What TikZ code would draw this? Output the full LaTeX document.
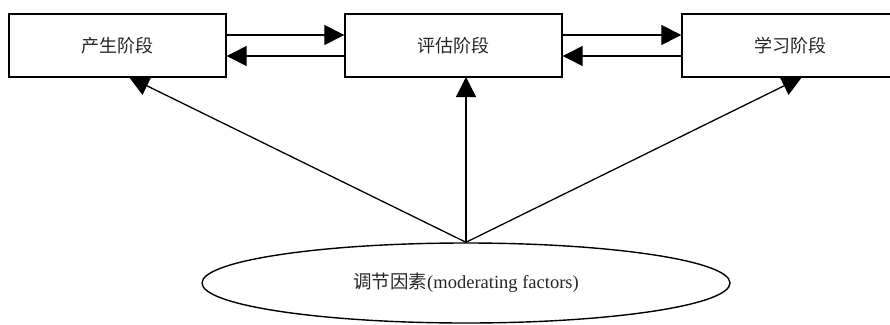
\documentclass[tikz,border=0pt]{standalone}
\usepackage{fontspec}
\setmainfont{Liberation Serif}
\newfontfamily\cjk{Noto Sans CJK SC}
\usetikzlibrary{arrows.meta,shapes.geometric}
\begin{document}
\begin{tikzpicture}[x=1pt,y=-1pt,
  stagebox/.style={draw,line width=1.4pt,fill=white,minimum width=217pt,minimum height=63pt,inner sep=0pt,font=\fontsize{18}{21}\selectfont\cjk,text=black!85},
  factor/.style={draw,ellipse,line width=1.4pt,minimum width=528pt,minimum height=80pt,inner sep=0pt,font=\fontsize{18.5}{21}\selectfont,text=black!85},
  conn/.style={line width=1.3pt,-{Triangle[length=20pt,width=20pt]}}]
\useasboundingbox (0,0) rectangle (890,324);
\clip (0,0) rectangle (890,324);
\node[factor] (e) at (466,283) {{\cjk 调节因素}(moderating factors)};
\coordinate (t1) at (129,77);
\coordinate (t2) at (466,77);
\coordinate (t3) at (802,77);
\draw[conn] (e.north) -- (t1);
\draw[conn] (e.north) -- (t2);
\draw[conn] (e.north) -- (t3);
\node[stagebox] (b1) at (117.5,45.5) {产生阶段};
\node[stagebox] (b2) at (453.5,45.5) {评估阶段};
\node[stagebox] (b3) at (790.5,45.5) {学习阶段};
\draw[conn] ([yshift=10.5pt]b1.east) -- ([yshift=10.5pt]b2.west);
\draw[conn] ([yshift=-10.5pt]b2.west) -- ([yshift=-10.5pt]b1.east);
\draw[conn] ([yshift=10.5pt]b2.east) -- ([yshift=10.5pt]b3.west);
\draw[conn] ([yshift=-10.5pt]b3.west) -- ([yshift=-10.5pt]b2.east);
\end{tikzpicture}
\end{document}
